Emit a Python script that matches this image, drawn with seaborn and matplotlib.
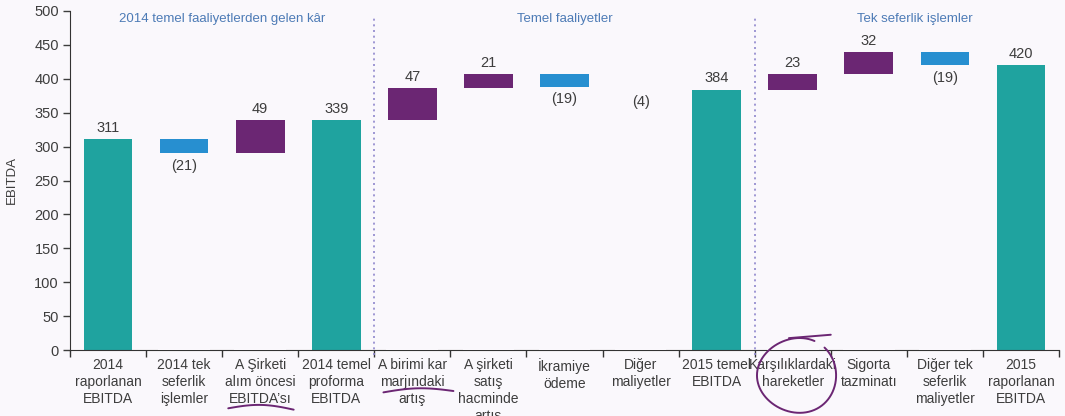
import numpy as np
import pandas as pd
import matplotlib
matplotlib.use("Agg")
import matplotlib.pyplot as plt
import seaborn as sns

# ---------------- data ----------------
categories = [
    "2014\nraporlanan\nEBITDA",
    "2014 tek\nseferlik\nişlemler",
    "A Şirketi\nalım öncesi\nEBITDA’sı",
    "2014 temel\nproforma\nEBITDA",
    "A birimi kar\nmarjındaki\nartış",
    "A şirketi\nsatış\nhacminde\nartış",
    "İkramiye\nödeme",
    "Diğer\nmaliyetler",
    "2015 temel\nEBITDA",
    "Karşılıklardaki\nhareketler",
    "Sigorta\ntazminatı",
    "Diğer tek\nseferlik\nmaliyetler",
    "2015\nraporlanan\nEBITDA",
]
# change values; None marks a subtotal/total column
changes = [311, -21, 49, None, 47, 21, -19, -4, None, 23, 32, -19, None]
section_titles = ["2014 temel faaliyetlerden gelen kâr", "Temel faaliyetler", "Tek seferlik işlemler"]
section_title_x = [1.5, 6.0, 10.6]
separators_after = [3, 8]
yticks = [0, 50, 100, 150, 200, 250, 300, 350, 400, 450, 500]
hidden_bars = [7]  # the (4) step has no visible bar in the reference

# ---------------- styling ----------------
BG = "#faf8fc"
TEAL = "#1fa39f"
BLUE = "#278fd0"
PURPLE = "#6b2673"
TXT = "#3d3d3d"
HEAD = "#4d7bb6"
SEP = "#8f86cc"

# ---------------- compute waterfall ----------------
bottoms, tops, kinds, labels = [], [], [], []
running = 0
for i, c in enumerate(changes):
    if c is None:
        bottoms.append(0); tops.append(running); kinds.append("total")
        labels.append(f"{running:d}")
    elif i == 0:
        running = c
        bottoms.append(0); tops.append(running); kinds.append("total")
        labels.append(f"{c:d}")
    else:
        new = running + c
        bottoms.append(min(running, new)); tops.append(max(running, new))
        kinds.append("up" if c > 0 else "down")
        labels.append(f"{c:d}" if c > 0 else f"({-c:d})")
        running = new

colors = []
for i, k in enumerate(kinds):
    if i in hidden_bars:
        colors.append(BG)
    else:
        colors.append({"total": TEAL, "up": PURPLE, "down": BLUE}[k])

df = pd.DataFrame({"cat": categories, "top": tops, "bottom": bottoms})

plt.rcParams["font.family"] = ["Liberation Sans", "DejaVu Sans"]
fig = plt.figure(figsize=(10.65, 4.16), dpi=100, facecolor=BG)
ax = fig.add_axes([70 / 1065, 66 / 416, 989 / 1065, 339 / 416])
ax.set_facecolor(BG)

sns.barplot(data=df, x="cat", y="top", hue="cat", palette=colors, legend=False,
            width=0.64, saturation=1, ax=ax, zorder=2)
sns.barplot(data=df, x="cat", y="bottom", color=BG, width=0.68, saturation=1,
            ax=ax, zorder=3)

n = len(categories)
ax.set_xlim(-0.5, n - 0.5)
ax.set_ylim(0, 500)
ax.set_yticks(yticks)
ax.tick_params(axis="y", labelsize=10.5, colors=TXT, length=5, width=1, pad=3)
ax.set_ylabel("EBITDA", fontsize=9.5, color=TXT, labelpad=12)

# category labels at centres, tick marks at boundaries
ax.set_xticks(range(n))
ax.set_xticklabels(categories, fontsize=10, color=TXT, linespacing=1.25)
ax.tick_params(axis="x", length=0, pad=6)
ax.set_xticks(np.arange(-0.5, n, 1.0), minor=True)
ax.tick_params(axis="x", which="minor", length=5, width=1, color="#333333")
ax.set_xlabel("")

for s in ["top", "right"]:
    ax.spines[s].set_visible(False)
ax.spines["left"].set_color("#333333")
ax.spines["bottom"].set_color("#333333")

# value labels
for i, (k, lab) in enumerate(zip(kinds, labels)):
    if k in ("total", "up"):
        ax.annotate(lab, (i, tops[i]), xytext=(0, 3), textcoords="offset points",
                    ha="center", va="bottom", fontsize=10.5, color=TXT, zorder=5)
    else:
        ax.annotate(lab, (i, bottoms[i]), xytext=(0, -4), textcoords="offset points",
                    ha="center", va="top", fontsize=10.5, color=TXT, zorder=5)

# section separators and titles
for s in separators_after:
    ax.plot([s + 0.5, s + 0.5], [-8, 494], linestyle=(0, (1.2, 2.2)), color=SEP,
            lw=1.2, clip_on=False, zorder=4)
for t, x in zip(section_titles, section_title_x):
    ax.text(x, 488, t, ha="center", va="center", fontsize=9.5, color=HEAD)

# hand-drawn annotation strokes (decorative)
tr = matplotlib.transforms.blended_transform_factory(ax.transData, ax.transAxes)
ink = dict(color=PURPLE, lw=1.4, clip_on=False, zorder=6, solid_capstyle="round")
u = np.linspace(0, 1, 30)
ax.plot(1.58 + 0.86 * u, -0.172 + 0.012 * np.sin(np.pi * u) - 0.004 * u, transform=tr, **ink)
ax.plot(3.62 + 0.92 * u, -0.125 + 0.010 * np.sin(np.pi * u) + 0.004 * u, transform=tr, **ink)
th = np.linspace(0.35 * np.pi, 2.25 * np.pi, 80)
cx, cy = 9.05, -0.075
ax.plot(cx + 0.52 * np.cos(th), cy + 0.11 * np.sin(th) * (1 + 0.08 * np.cos(th)), transform=tr, **ink)
ax.plot([cx - 0.1, cx + 0.45], [0.035, 0.045], transform=tr, **ink)

fig.savefig("out.png", dpi=100, facecolor=BG)
